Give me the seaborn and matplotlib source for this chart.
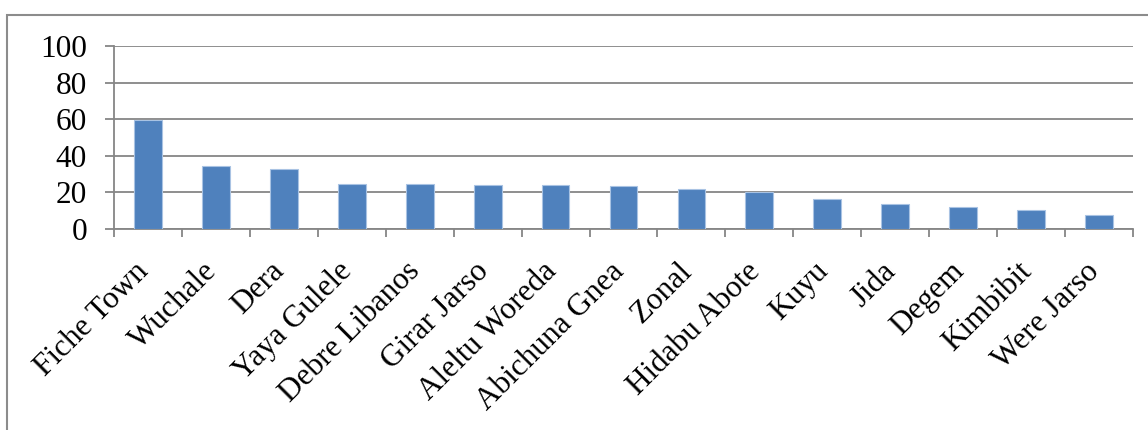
import matplotlib
matplotlib.use("Agg")
import matplotlib.pyplot as plt
import matplotlib.transforms as mtransforms
from matplotlib.patches import Rectangle
from matplotlib.ticker import FixedLocator
import seaborn as sns

# Share per district (%)
districts = ["Fiche Town", "Wuchale", "Dera", "Yaya Gulele", "Debre Libanos",
             "Girar Jarso", "Aleltu Woreda", "Abichuna Gnea", "Zonal", "Hidabu Abote",
             "Kuyu", "Jida", "Degem", "Kimbibit", "Were Jarso"]
values = [59.5, 34.5, 32.7, 24.8, 24.5, 23.9, 23.9, 23.5, 21.7, 20.1,
          16.3, 13.5, 12.0, 10.6, 7.9]
y_ticks = [0, 20, 40, 60, 80, 100]

sns.set_style("white")
plt.rcParams["font.family"] = ["Liberation Serif", "DejaVu Serif"]

W, H, DPI = 1148, 430, 100
fig = plt.figure(figsize=(W / DPI, H / DPI), dpi=DPI)
ax = fig.add_axes([114 / W, 1 - 229 / H, (1133 - 114) / W, (229 - 46) / H])

sns.barplot(x=districts, y=values, color="#4F81BD", saturation=1, width=0.41,
            edgecolor="#A9C3E3", linewidth=0.8, ax=ax, zorder=3)

grid_c = "#868686"
ax.set_ylim(0, 100)
ax.set_xlim(-0.5, len(districts) - 0.5)
ax.yaxis.set_major_locator(FixedLocator(y_ticks))
ax.grid(axis="y", color=grid_c, linewidth=1.3, zorder=0)
ax.set_xlabel("")
ax.set_ylabel("")

for side in ["top", "right"]:
    ax.spines[side].set_visible(False)
for side in ["left", "bottom"]:
    ax.spines[side].set_color(grid_c)
    ax.spines[side].set_linewidth(1.3)

ax.tick_params(axis="y", length=6.5, width=1.3, color=grid_c, pad=13,
               labelsize=22.5, labelcolor="black", direction="out", left=True)
# category boundaries carry the tick marks
ax.xaxis.set_minor_locator(FixedLocator([i - 0.5 for i in range(len(districts) + 1)]))
ax.tick_params(axis="x", which="minor", length=6, width=1.3, color=grid_c,
               direction="out", bottom=True)
ax.tick_params(axis="x", which="major", length=0, pad=6, labelsize=22.5,
               labelcolor="black")

offset = mtransforms.ScaledTranslation(-10 / 72, -14 / 72, fig.dpi_scale_trans)
for lab in ax.get_xticklabels():
    lab.set_rotation(45)
    lab.set_ha("right")
    lab.set_va("top")
    lab.set_rotation_mode("anchor")
    lab.set_transform(lab.get_transform() + offset)

# frame around the chart area
fig.patches.append(Rectangle((7 / W, -0.1), 1.2, 1 - 15 / H + 0.1,
                             transform=fig.transFigure, fill=False,
                             edgecolor="#8C8C8C", linewidth=1.5))

fig.savefig("out.png", dpi=DPI, facecolor="white")
